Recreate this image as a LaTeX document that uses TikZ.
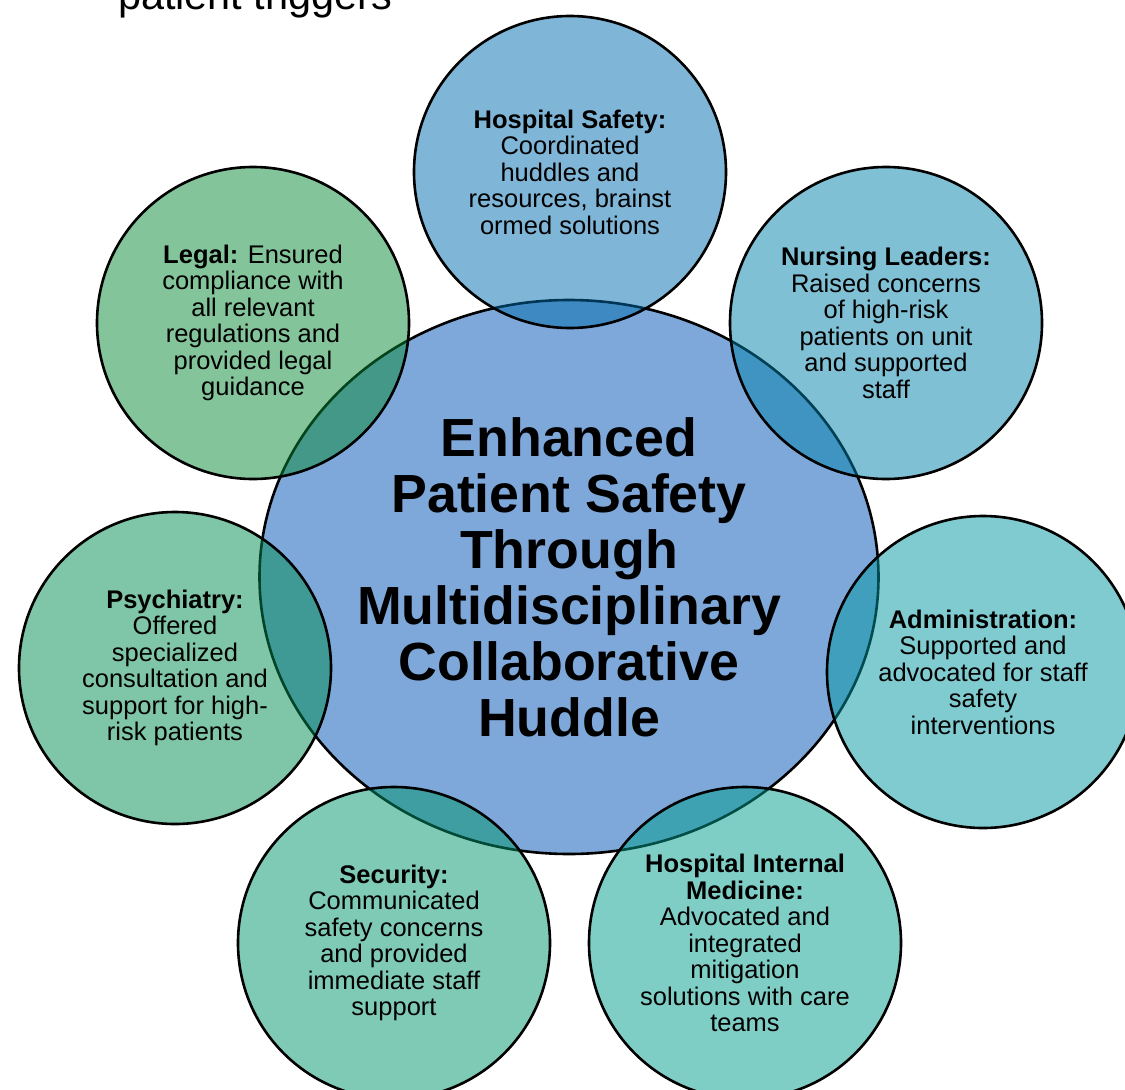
\documentclass[tikz,border=0pt]{standalone}
\usepackage{fontspec}
\setmainfont{Liberation Sans}
\usetikzlibrary{shapes.geometric}

% Kleuren
\definecolor{hubblue}{RGB}{127,168,218}
\definecolor{safetyblue}{RGB}{0,107,173}
\definecolor{nursingblue}{RGB}{0,129,169}
\definecolor{admincyan}{RGB}{0,151,161}
\definecolor{medicineteal}{RGB}{0,157,141}
\definecolor{securityteal}{RGB}{0,149,107}
\definecolor{psychgreen}{RGB}{0,139,81}
\definecolor{legalgreen}{RGB}{9,137,53}

\tikzset{
  hub/.style={ellipse, draw=black, line width=2.6pt, fill=hubblue,
    minimum width=619pt, minimum height=554pt, inner sep=0pt, align=center,
    font=\fontsize{53.7}{56}\selectfont\bfseries},
  spoke/.style={circle, draw=black, line width=2.6pt, fill opacity=0.5,
    text opacity=1, minimum size=312pt, inner sep=0pt, align=center,
    font=\fontsize{25.5}{26.5}\selectfont}
}

\begin{document}
\begin{tikzpicture}[x=1pt, y=-1pt]

  \useasboundingbox (0,0) rectangle (1125,1090);

  % Restje tekst bovenaan
  \node[anchor=base west, inner sep=0pt, font=\fontsize{41.4}{48}\selectfont]
    (triggers) at (118,9) {patient triggers};

  % Middelste ellips
  \node[hub] (hub) at (569,577)
    {Enhanced\\ Patient Safety\\ Through\\ Multidisciplinary\\ Collaborative\\ Huddle};

  % Cirkels rondom
  \node[spoke, fill=safetyblue] (safety) at (570,172)
    {\textbf{Hospital Safety:}\\ Coordinated\\ huddles and\\ resources, brainst\\ ormed solutions};

  \node[spoke, fill=nursingblue] (nursing) at (886,323)
    {\textbf{Nursing Leaders:}\\ Raised concerns\\ of high-risk\\ patients on unit\\ and supported\\ staff};

  \node[spoke, fill=admincyan] (admin) at (983,672)
    {\textbf{Administration:}\\ Supported and\\ advocated for staff\\ safety\\ interventions};

  \node[spoke, fill=medicineteal] (medicine) at (745,943)
    {\textbf{Hospital Internal}\\ \textbf{Medicine:}\\ Advocated and\\ integrated\\ mitigation\\ solutions with care\\ teams};

  \node[spoke, fill=securityteal] (security) at (394,943)
    {\textbf{Security:}\\ Communicated\\ safety concerns\\ and provided\\ immediate staff\\ support};

  \node[spoke, fill=psychgreen] (psychiatry) at (175,668)
    {\textbf{Psychiatry:}\\ Offered\\ specialized\\ consultation and\\ support for high-\\ risk patients};

  \node[spoke, fill=legalgreen] (legal) at (253,323)
    {\textbf{Legal:} Ensured\\ compliance with\\ all relevant\\ regulations and\\ provided legal\\ guidance};

\end{tikzpicture}
\end{document}
